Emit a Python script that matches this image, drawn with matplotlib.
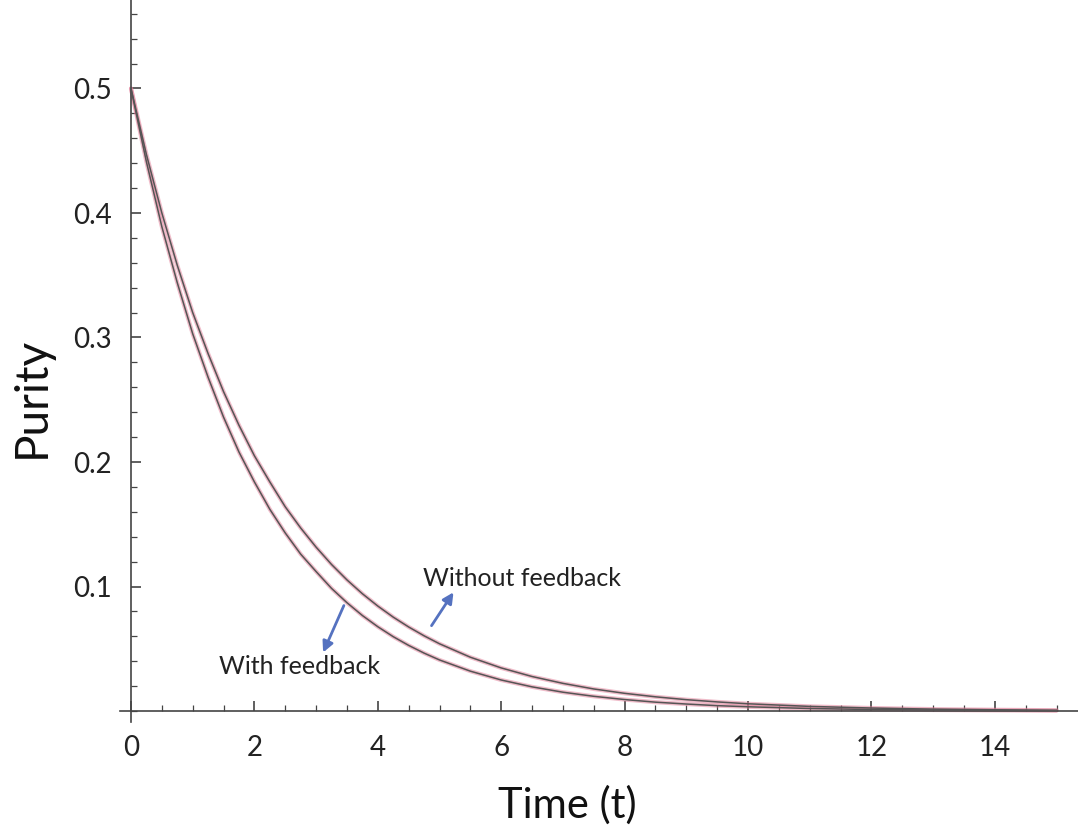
import matplotlib
matplotlib.use("Agg")
import matplotlib.pyplot as plt
from matplotlib.ticker import MultipleLocator, FixedLocator

# Data
t = [0, 0.25, 0.5, 0.75, 1, 1.25, 1.5, 1.75, 2, 2.25, 2.5, 2.75, 3, 3.25, 3.5, 3.75,
     4, 4.25, 4.5, 4.75, 5, 5.5, 6, 6.5, 7, 7.5, 8, 8.5, 9, 9.5, 10, 11, 12, 13, 14, 15]
with_feedback = [0.500, 0.441, 0.389, 0.344, 0.303, 0.268, 0.236, 0.208, 0.184, 0.162,
                 0.143, 0.126, 0.112, 0.0985, 0.087, 0.0767, 0.0677, 0.0597, 0.0527, 0.0465,
                 0.0410, 0.0320, 0.0249, 0.0194, 0.0151, 0.0118, 0.0092, 0.0071, 0.0056,
                 0.0043, 0.0034, 0.0020, 0.0012, 0.0008, 0.0005, 0.0003]
without_feedback = [0.500, 0.447, 0.400, 0.358, 0.320, 0.287, 0.2565, 0.2295, 0.205, 0.184,
                    0.164, 0.147, 0.1316, 0.1177, 0.1053, 0.0942, 0.0843, 0.0754, 0.0675,
                    0.0604, 0.0540, 0.0432, 0.0346, 0.0277, 0.0222, 0.0177, 0.0142, 0.0114,
                    0.0091, 0.0073, 0.0058, 0.0037, 0.0024, 0.0015, 0.0010, 0.0006]
x_ticks = [0, 2, 4, 6, 8, 10, 12, 14]
y_ticks = [0.1, 0.2, 0.3, 0.4, 0.5]

plt.rcParams['font.family'] = ['Lato', 'DejaVu Sans']

W, H = 1078, 838
fig = plt.figure(figsize=(W / 100, H / 100), dpi=100)
left_px, right_px, top_px, bot_px = 120, 1078, 0, 722
ax = fig.add_axes([left_px / W, (H - bot_px) / H, (right_px - left_px) / W, (bot_px - top_px) / H])

x0_px, xs = 131, 61.7
y0_px, ys = 711, 1245
ax.set_xlim((left_px - x0_px) / xs, (right_px - x0_px) / xs)
ax.set_ylim((y0_px - bot_px) / ys, (y0_px - top_px) / ys)

for s in ['top', 'right']:
    ax.spines[s].set_visible(False)
ax.spines['left'].set_position(('data', 0))
ax.spines['bottom'].set_position(('data', 0))
for s in ['left', 'bottom']:
    ax.spines[s].set_color('#444444')
    ax.spines[s].set_linewidth(1.2)

ax.xaxis.set_major_locator(FixedLocator(x_ticks))
ax.xaxis.set_minor_locator(MultipleLocator(0.5))
ax.yaxis.set_major_locator(FixedLocator(y_ticks))
ax.yaxis.set_minor_locator(MultipleLocator(0.02))
ax.set_xticklabels([str(v) for v in x_ticks])
ax.set_yticklabels([f"{v:.1f}" for v in y_ticks])
ax.tick_params(which='both', direction='in', color='#444444')
ax.tick_params(which='major', length=7, width=1.2, labelsize=20, colors='#444444', labelcolor='#222222')
ax.tick_params(which='minor', length=4, width=0.9)
ax.tick_params(axis='x', which='major', pad=17)
ax.tick_params(axis='y', which='major', pad=14)

# curves: pink halo with dark core
for series in (without_feedback, with_feedback):
    ax.plot(t, series, color='#e07a95', lw=3.0, alpha=0.5, solid_capstyle='round', zorder=2)
    ax.plot(t, series, color='#555555', lw=1.1, zorder=3)

arrow_col = '#5572c0'
ax.annotate('', xy=((322 - x0_px) / xs, (y0_px - 655) / ys), xytext=((345 - x0_px) / xs, (y0_px - 603) / ys),
            arrowprops=dict(arrowstyle='-|>', color=arrow_col, lw=2.0, mutation_scale=16))
ax.annotate('', xy=((455 - x0_px) / xs, (y0_px - 590) / ys), xytext=((430 - x0_px) / xs, (y0_px - 628) / ys),
            arrowprops=dict(arrowstyle='-|>', color=arrow_col, lw=2.0, mutation_scale=16))

ax.text((522 - x0_px) / xs, (y0_px - 578) / ys, 'Without feedback', ha='center', va='center',
        fontsize=18, color='#222222')
ax.text((300 - x0_px) / xs, (y0_px - 666) / ys, 'With feedback', ha='center', va='center',
        fontsize=18, color='#222222')

fig.text(567 / W, 1 - 805 / H, 'Time (t)', ha='center', va='center', fontsize=30, color='#111111')
fig.text(32 / W, 1 - 397 / H, 'Purity', ha='center', va='center', rotation=90, fontsize=33, color='#111111')

fig.savefig('out.png', dpi=100)
